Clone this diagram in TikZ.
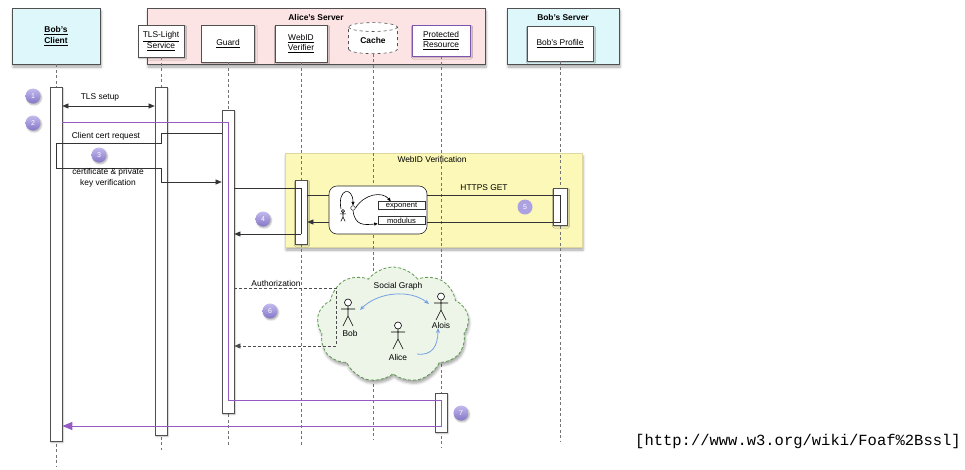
\documentclass[tikz,border=0pt]{standalone}
\usepackage{fontspec}
\setmainfont{Liberation Sans}
\setmonofont{Liberation Mono}
\usetikzlibrary{shapes.geometric,shapes.symbols,shadows,shadows.blur,arrows.meta}

\definecolor{clientcyan}{RGB}{221,247,250}
\definecolor{alicepink}{RGB}{252,228,228}
\definecolor{verifyellow}{RGB}{251,248,184}
\definecolor{verifedge}{RGB}{222,216,160}
\definecolor{edgegray}{RGB}{80,80,80}
\definecolor{lifegray}{RGB}{115,115,115}
\definecolor{flowpurple}{RGB}{150,90,195}
\definecolor{resourcepurple}{RGB}{125,85,175}
\definecolor{numtop}{RGB}{196,186,238}
\definecolor{numbot}{RGB}{132,118,198}
\definecolor{numflat}{RGB}{172,162,225}
\definecolor{cloudgreen}{RGB}{95,155,80}
\definecolor{cloudfill}{RGB}{236,245,232}
\definecolor{socialblue}{RGB}{120,160,225}

\tikzset{
  actor/.pic={
    \draw[line width=0.6pt, fill=white] (0,3.5) circle (3.5);
    \draw[line width=0.6pt] (0,7) -- (0,17) (-7,10) -- (7,10)
      (0,17) -- (-5,27) (0,17) -- (5,27);
  }
}

\begin{document}
\begin{tikzpicture}[x=1pt,y=-1pt,
  txt/.style={font=\fontsize{8.4}{10.5}\selectfont},
  bigshadow/.style={blur shadow={shadow xshift=1pt,shadow yshift=-3pt,shadow blur radius=2.5pt,shadow opacity=35}},
  smallshadow/.style={blur shadow={shadow xshift=1pt,shadow yshift=-1.5pt,shadow blur radius=1.5pt,shadow opacity=30}},
  group/.style={draw=edgegray,line width=0.8pt,inner sep=0pt,bigshadow},
  grouptitle/.style={font=\fontsize{8.4}{10.5}\selectfont\bfseries,inner sep=1pt},
  objbox/.style={draw=edgegray,fill=white,line width=0.6pt,align=center,inner sep=1pt,
    font=\fontsize{8.4}{10.5}\selectfont,smallshadow},
  lifeline/.style={draw=lifegray,line width=0.7pt,dash pattern=on 3pt off 2.5pt},
  bar/.style={draw=edgegray,fill=white,line width=0.7pt,minimum width=12pt,inner sep=0pt,smallshadow},
  msg/.style={draw=black!80,line width=0.5pt},
  tip/.tip={Triangle[length=6pt,width=5pt]},
  numc/.style={circle,top color=numtop,bottom color=numbot,text=white,
    font=\fontsize{7}{8}\selectfont,minimum size=15pt,inner sep=0pt,smallshadow},
  smallbox/.style={draw=black!80,fill=white,line width=0.5pt,minimum width=47pt,minimum height=8pt,
    inner sep=0pt,font=\fontsize{7.6}{8}\selectfont},
  authline/.style={draw=black!70,line width=0.6pt,dash pattern=on 3pt off 2pt},
]
\useasboundingbox (0,0) rectangle (965,469);

% ---------- participants ----------
\node[group,fill=clientcyan,minimum width=88pt,minimum height=56pt,align=center,
  font=\fontsize{8.4}{11}\selectfont\bfseries] (client) at (56,36)
  {\underline{Bob's}\\\underline{Client}};

\node[group,fill=alicepink,minimum width=338pt,minimum height=56pt] (alice) at (316,36) {};
\node[grouptitle] (alicetitle) at (316,17) {Alice's Server};

\node[group,fill=clientcyan,minimum width=112pt,minimum height=56pt] (bobsrv) at (563,36) {};
\node[grouptitle] (bobsrvtitle) at (563,17) {Bob's Server};

\node[objbox,minimum width=46pt,minimum height=32pt] (tls) at (161,41)
  {\underline{TLS-Light}\\\underline{Service}};
\node[objbox,minimum width=53pt,minimum height=37pt] (guard) at (228,43.5) {\underline{Guard}};
\node[objbox,minimum width=52pt,minimum height=37pt] (verifier) at (301,43.5)
  {\underline{WebID}\\\underline{Verifier}};
\node[cylinder,shape border rotate=90,aspect=0.35,draw=edgegray,dashed,fill=white,line width=0.6pt,
  minimum width=49pt,minimum height=31pt,inner sep=0pt,
  font=\fontsize{8.4}{10.5}\selectfont\bfseries] (cache) at (373,40.5) {Cache};
\node[objbox,draw=resourcepurple,line width=0.8pt,minimum width=58pt,minimum height=31pt] (resource)
  at (441,40.5) {\underline{Protected}\\\underline{Resource}};
\node[objbox,minimum width=66pt,minimum height=35pt] (profile) at (560,43.5) {\underline{Bob's Profile}};

% ---------- verification frame (under the lifelines) ----------
\node[draw=verifedge,fill=verifyellow,line width=0.4pt,minimum width=297pt,minimum height=94pt,
  inner sep=0pt,bigshadow] (verif) at (433.5,200) {};
\node[txt] (veriftitle) at (432,159) {WebID Verification};

% ---------- lifelines ----------
\draw[lifeline] (client.south) -- (56,466);
\draw[lifeline] (tls.south) -- (161,450);
\draw[lifeline] (guard.south) -- (228,447);
\draw[lifeline] (verifier.south) -- (301,447);
\draw[lifeline] (cache.south) -- (373,439);
\draw[lifeline] (resource.south) -- (441,447);
\draw[lifeline] (profile.south) -- (560,441);

% ---------- activation bars ----------
\node[bar,minimum height=354pt] (cbar) at (56,264) {};
\node[bar,minimum height=348pt] (tbar) at (161,261) {};
\node[bar,minimum height=303pt] (gbar) at (228,261.5) {};
\node[bar,minimum height=64pt] (wbar) at (301,212) {};
\node[bar,minimum height=37pt,minimum width=14pt] (pbar) at (560,206.5) {};
\node[bar,minimum height=39pt] (rbar) at (441,412.5) {};

% message levels
\coordinate (yTls) at (0,106);
\coordinate (yStart) at (0,122);
\coordinate (yReq) at (0,133);
\coordinate (yReqB) at (0,143);
\coordinate (yVerA) at (0,168);
\coordinate (yVer) at (0,182);
\coordinate (yCall) at (0,188);
\coordinate (yGet) at (0,195);
\coordinate (yBack) at (0,222);
\coordinate (yRet) at (0,234);
\coordinate (yAuth) at (0,288);
\coordinate (yAuthRet) at (0,346);
\coordinate (yRes) at (0,400);
\coordinate (yEnd) at (0,426);
\coordinate (authCorner) at (336,288);

% ---------- 1: TLS setup ----------
\draw[msg,tip-tip] (cbar.east |- yTls) -- (tbar.west |- yTls);
\node[txt] (tlslbl) at (100,97) {TLS setup};

% ---------- 3: client certificate exchange ----------
\draw[msg,-tip] (gbar.west |- yReq) -- (tbar.center |- yReq) -- (tbar.center |- yReqB)
  -- (cbar.center |- yReqB) -- (cbar.center |- yVerA) -- (tbar.center |- yVerA)
  -- (tbar.center |- yVer) -- (gbar.west |- yVer);
\node[txt] (reqlbl) at (106,136) {Client cert request};
\node[txt,align=center] (verlbl) at (108,178) {certificate \& private\\key verification};

% ---------- 4/5: WebID verification ----------
\node[draw=black!85,fill=white,line width=0.6pt,rounded corners=8pt,minimum width=98pt,
  minimum height=48pt,inner sep=0pt] (rb) at (378,210) {};
\node[smallbox] (exponent) at (401.5,205.5) {exponent};
\node[smallbox] (modulus) at (401.5,220.5) {modulus};
\pic[scale=0.44] at (343,209.5) {actor};
\node[circle,draw=black!85,fill=white,line width=0.5pt,minimum size=4.6pt,inner sep=0pt] (key) at (353,208) {};
\coordinate (keyuser) at (341,209);
\draw[line width=0.6pt,-{Triangle[length=3.5pt,width=3pt]}] (keyuser) .. controls (337,188) and (353,186) .. (key.north);
\draw[line width=0.6pt,-{Triangle[length=3.5pt,width=3pt]}] (key.east) .. controls (364,194) and (382,191) .. ([xshift=13pt]exponent.north west);
\draw[line width=0.6pt,-{Triangle[length=3.5pt,width=3pt]}] (key.south) .. controls (355,226) and (364,225) .. ([yshift=1pt]modulus.south west);

\draw[msg] (gbar.east |- yCall) -- (wbar.center |- yCall) -- (wbar.center |- yRet);
\draw[msg,-tip] (wbar.center |- yRet) -- (gbar.east |- yRet);
\draw[msg] (wbar.east |- yGet) -- (rb.west |- yGet);
\draw[msg] (rb.east |- yGet) -- (pbar.center |- yGet) -- (pbar.center |- yBack) -- (rb.east |- yBack);
\draw[msg,-tip] (rb.west |- yBack) -- (wbar.east |- yBack);
\node[txt] (getlbl) at (484,188) {HTTPS GET};

% ---------- 6: social graph and authorization ----------
\node[cloud,cloud puffs=9,cloud puff arc=105,aspect=1.3,draw=cloudgreen,line width=0.8pt,
  dash pattern=on 3pt off 2pt,fill=cloudfill,minimum width=152pt,minimum height=116pt,
  inner sep=0pt,bigshadow] (social) at (393,325) {};
\node[txt] (sglbl) at (398,286) {Social Graph};
\pic at (348,299) {actor};
\pic at (441,293) {actor};
\pic at (398,322) {actor};
\node[txt] (bob) at (350,333.5) {Bob};
\node[txt] (alois) at (441,325) {Alois};
\node[txt] (alicep) at (398,357) {Alice};
\coordinate (bobarm) at (360,310);
\coordinate (aloisarm) at (429,304);
\coordinate (alicehand) at (417,354);
\coordinate (aloisfoot) at (438,328);
\draw[socialblue,line width=0.8pt,{Stealth[length=5pt,width=4pt]}-{Stealth[length=5pt,width=4pt]}]
  (bobarm) .. controls (378,292) and (410,289) .. (aloisarm);
\draw[socialblue,line width=0.8pt,-{Stealth[length=5pt,width=4pt]}]
  (alicehand) .. controls (432,356) and (438,346) .. (aloisfoot);

\draw[authline] (gbar.east |- yAuth) -- (authCorner) -- (authCorner |- yAuthRet);
\draw[authline,-tip] (authCorner |- yAuthRet) -- (gbar.east |- yAuthRet);
\node[txt] (authlbl) at (276,283) {Authorization};

% ---------- 2/7: request path to the protected resource ----------
\draw[flowpurple,line width=1pt,-{Triangle[length=10pt,width=8pt]}]
  (cbar.east |- yStart) -- (gbar.center |- yStart) -- (gbar.center |- yRes)
  -- (rbar.center |- yRes) -- (rbar.center |- yEnd) -- (cbar.east |- yEnd);

% ---------- step numbers ----------
\node[numc] (n1) at (33,96) {1};
\node[numc] (n2) at (33,123) {2};
\node[numc] (n3) at (99,155) {3};
\node[numc] (n4) at (263,219) {4};
\node[circle,fill=numflat,text=white,font=\fontsize{7}{8}\selectfont,minimum size=15pt,inner sep=0pt] (n5) at (525,207) {5};
\node[numc] (n6) at (270,311) {6};
\node[numc] (n7) at (461,413) {7};

% ---------- source ----------
\node[anchor=base west,inner sep=0pt,font=\fontsize{15.5}{17}\selectfont\ttfamily] (src)
  at (635,445) {[http://www.w3.org/wiki/Foaf\%2Bssl]};
\end{tikzpicture}
\end{document}
